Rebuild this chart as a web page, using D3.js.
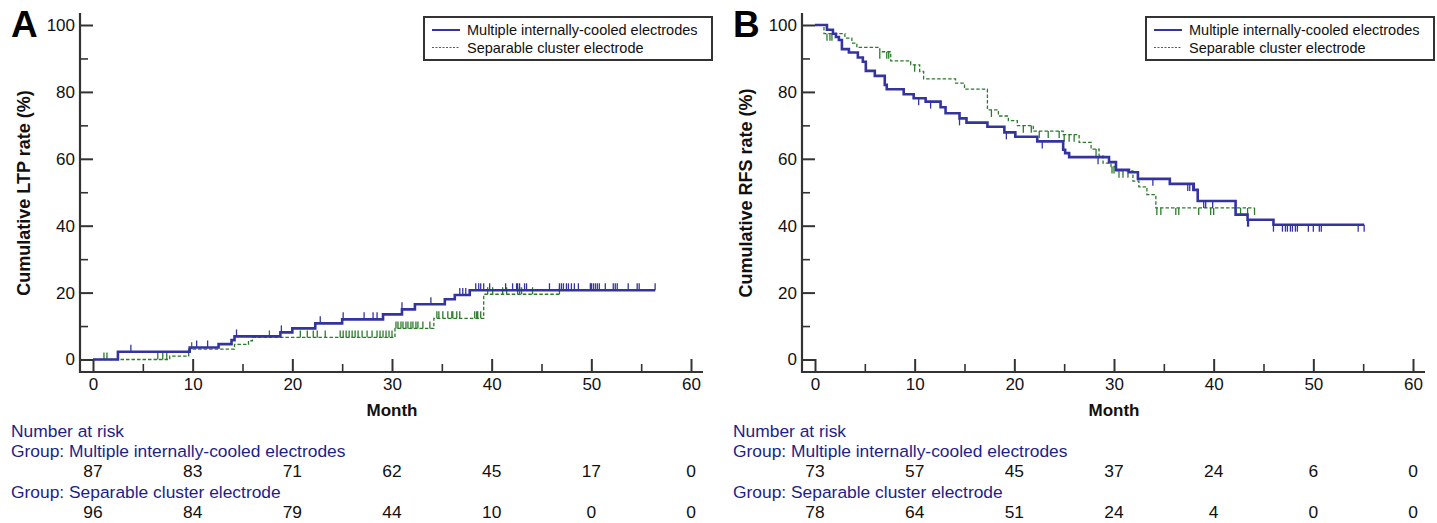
<!DOCTYPE html>
<html><head><meta charset="utf-8">
<script src="https://cdn.jsdelivr.net/npm/d3@7"></script>
<style>
body{margin:0;background:#fff}
svg{display:block}
text{font-family:"Liberation Sans",Arial,sans-serif}
</style>
</head><body>
<svg id="c" width="1437" height="523"></svg>
<script>
// ---------- shared ----------
const monthTicks = [0, 10, 20, 30, 40, 50, 60];
const monthMinor = [5, 15, 25, 35, 45, 55];
const yTicks = [0, 20, 40, 60, 80, 100];
const yMinor = [10, 30, 50, 70, 90];
const groupNames = ["Multiple internally-cooled electrodes", "Separable cluster electrode"];

// ---------- Panel A: cumulative LTP ----------
const ltpMiceTimes  = [0, 2.5, 9.7, 12.6, 13.9, 14.2, 18.8, 20.0, 22.3, 25.0, 29.1, 31.0, 32.3, 35.3, 36.3, 37.8, 56.4];
const ltpMiceValues = [0, 2.3, 3.6, 4.6, 5.8, 6.9, 8.1, 9.3, 10.8, 12.0, 13.5, 15.0, 16.5, 18.0, 19.3, 20.7, 20.7];
const ltpMiceCensored = [3.8, 10.4, 11.5, 14.4, 18.9, 22.8, 25.1, 27.2, 28.1, 28.5, 31.0, 33.9, 36.8, 37.1, 37.4,
  38.4, 38.7, 38.9, 39.2, 39.8, 41.4, 42.1, 42.5, 42.6, 42.8, 43.3, 43.5, 45.8, 46.8, 47.0, 47.2, 47.5, 47.7, 48.0,
  48.3, 48.7, 49.9, 50.0, 50.2, 50.4, 50.6, 50.8, 51.4, 52.2, 52.4, 52.6, 53.7, 54.6, 54.8, 56.4];

const ltpSceTimes  = [0, 7.7, 9.6, 14.2, 15.6, 16.0, 30.3, 34.2, 39.2, 46.8];
const ltpSceValues = [0, 1.0, 3.1, 4.5, 5.6, 6.6, 9.3, 12.3, 19.5, 19.5];
const ltpSceCensored = [1.1, 1.4, 6.5, 7.0, 7.4, 9.9, 17.7, 20.8, 21.5, 22.1, 22.5, 23.3, 24.8, 25.1, 25.4, 25.7,
  26.0, 26.3, 26.6, 27.0, 27.5, 28.0, 28.5, 28.8, 29.1, 29.4, 29.7, 30.0, 30.4, 30.6, 30.9, 31.1, 31.4, 31.6, 31.9,
  32.1, 32.4, 32.6, 33.1, 33.8, 34.5, 34.7, 35.1, 35.6, 36.0, 36.1, 36.5, 36.8, 38.3, 38.5, 38.6, 38.9, 39.6, 40.1,
  41.1, 41.5, 42.6, 42.8, 43.0, 44.1, 46.8];

const riskLtpMice = [87, 83, 71, 62, 45, 17, 0];
const riskLtpSce  = [96, 84, 79, 44, 10, 0, 0];

// ---------- Panel B: cumulative RFS ----------
const rfsMiceTimes  = [0, 1.2, 1.8, 2.1, 2.4, 2.7, 3.4, 4.3, 4.8, 5.1, 6.0, 7.0, 7.2, 8.9, 9.9, 11.1, 12.6, 13.1,
  14.5, 15.2, 17.3, 19.0, 20.1, 22.3, 24.9, 25.1, 25.5, 29.5, 30.2, 31.5, 32.4, 35.6, 38.0, 38.4, 42.2, 43.4, 46.0, 55.1];
const rfsMiceValues = [100, 98.6, 97.4, 96.4, 95.5, 92.8, 91.8, 90.3, 89.0, 86.3, 84.8, 82.1, 80.8, 79.3, 78.1, 77.1,
  75.4, 73.6, 72.1, 70.8, 69.6, 67.9, 66.6, 65.2, 62.7, 61.7, 60.5, 59.0, 56.7, 56.0, 54.0, 52.5, 50.7, 47.4, 43.3,
  41.8, 40.3, 40.3];
const rfsMiceCensored = [10.4, 11.6, 14.5, 19.2, 22.8, 28.4, 33.9, 37.4, 37.6, 37.9, 39.0, 39.2, 39.9, 43.4, 43.5,
  46.0, 46.9, 47.2, 47.4, 47.7, 47.9, 48.2, 48.4, 49.5, 50.0, 50.6, 50.8, 54.5, 55.1];

const rfsSceTimes  = [0, 0.9, 3.0, 3.7, 4.2, 6.5, 7.6, 9.6, 10.5, 10.9, 14.1, 15.0, 17.3, 18.4, 19.4, 20.3, 21.9,
  24.9, 26.5, 27.7, 28.5, 28.9, 29.7, 30.2, 31.9, 32.5, 33.3, 34.2, 44.1];
const rfsSceValues = [100, 97.4, 96.1, 94.6, 93.3, 92.0, 89.3, 88.1, 86.1, 83.9, 82.6, 80.8, 74.6, 72.8, 71.4, 69.9,
  68.3, 67.2, 64.9, 62.9, 60.9, 58.7, 57.7, 56.4, 53.3, 51.6, 49.3, 45.3, 45.3];
const rfsSceCensored = [1.2, 1.5, 1.7, 6.5, 7.2, 7.4, 10.0, 17.7, 20.9, 21.7, 22.5, 23.4, 24.5, 25.0, 25.5, 26.0,
  28.2, 29.8, 30.0, 30.5, 30.9, 31.4, 34.3, 34.7, 36.2, 36.5, 38.5, 39.7, 40.0, 42.2, 42.7, 43.4, 44.1];

const riskRfsMice = [73, 57, 45, 37, 24, 6, 0];
const riskRfsSce  = [78, 64, 51, 24, 4, 0, 0];

// ---------- drawing ----------
const BLUE = "#3434a0", GREEN = "#2b7b2b", AXIS = "#333", NAVY = "#1e1e88";
const svg = d3.select("#c");

const panels = [
  { letter: "A", ox: 0, ylabel: "Cumulative LTP rate (%)", dir: 1,
    mice: [ltpMiceTimes, ltpMiceValues, ltpMiceCensored], sce: [ltpSceTimes, ltpSceValues, ltpSceCensored],
    risk: [riskLtpMice, riskLtpSce] },
  { letter: "B", ox: 722, ylabel: "Cumulative RFS rate (%)", dir: -1,
    mice: [rfsMiceTimes, rfsMiceValues, rfsMiceCensored], sce: [rfsSceTimes, rfsSceValues, rfsSceCensored],
    risk: [riskRfsMice, riskRfsSce] }
];

function stepValue(times, values, t) {
  let v = values[0];
  for (let i = 0; i < times.length; i++) if (times[i] <= t + 1e-9) v = values[i];
  return v;
}

panels.forEach(p => {
  const g = svg.append("g").attr("transform", `translate(${p.ox},0)`);
  const axX = 80, axY = 372, axTop = 13, axRight = 703;
  const x = d3.scaleLinear().domain([0, 60]).range([93, 691]);
  const y = d3.scaleLinear().domain([0, 100]).range([359.5, 25]);

  // axis lines
  g.append("line").attr("x1", axX).attr("x2", axX).attr("y1", axTop).attr("y2", axY + 1)
    .attr("stroke", AXIS).attr("stroke-width", 2.2);
  g.append("line").attr("x1", axX - 1).attr("x2", axRight).attr("y1", axY).attr("y2", axY)
    .attr("stroke", AXIS).attr("stroke-width", 2.2);

  // y axis (inward ticks)
  const ya = g.append("g").attr("transform", `translate(${axX},0)`)
    .call(d3.axisLeft(y).tickValues(yTicks).tickSize(-13).tickPadding(5).tickFormat(d3.format("d")));
  ya.select(".domain").remove();
  ya.selectAll("line").attr("stroke", AXIS).attr("stroke-width", 2);
  ya.selectAll("text").attr("font-size", 17).attr("fill", "#111")
    .style("font-family", '"Liberation Sans",Arial,sans-serif');
  const yam = g.append("g").attr("transform", `translate(${axX},0)`)
    .call(d3.axisLeft(y).tickValues(yMinor).tickSize(-8).tickFormat(""));
  yam.select(".domain").remove();
  yam.selectAll("line").attr("stroke", AXIS).attr("stroke-width", 1.6);

  // x axis
  const xa = g.append("g").attr("transform", `translate(0,${axY})`)
    .call(d3.axisBottom(x).tickValues(monthTicks).tickSize(-13).tickPadding(6));
  xa.select(".domain").remove();
  xa.selectAll("line").attr("stroke", AXIS).attr("stroke-width", 2);
  xa.selectAll("text").attr("font-size", 17).attr("fill", "#111")
    .style("font-family", '"Liberation Sans",Arial,sans-serif');
  const xam = g.append("g").attr("transform", `translate(0,${axY})`)
    .call(d3.axisBottom(x).tickValues(monthMinor).tickSize(-8).tickFormat(""));
  xam.select(".domain").remove();
  xam.selectAll("line").attr("stroke", AXIS).attr("stroke-width", 1.6);

  // labels
  g.append("text").attr("x", 11).attr("y", 37).attr("font-size", 37).attr("font-weight", "bold")
    .attr("fill", "#000").text(p.letter);
  g.append("text").attr("transform", `translate(30,193) rotate(-90)`).attr("text-anchor", "middle")
    .attr("font-size", 18).attr("font-weight", "bold").attr("fill", "#111").text(p.ylabel);
  g.append("text").attr("x", x(30)).attr("y", 416).attr("text-anchor", "middle")
    .attr("font-size", 17).attr("font-weight", "bold").attr("fill", "#111").text("Month");

  // curves
  const line = d3.line().x(d => x(d[0])).y(d => y(d[1])).curve(d3.curveStepAfter);
  const series = [
    { d: p.sce, color: GREEN, w: 1.3, dash: "3.5,2" },
    { d: p.mice, color: BLUE, w: 2.6, dash: null }
  ];
  series.forEach(s => {
    const [times, values, cens] = s.d;
    const pts = times.map((t, i) => [t, values[i]]);
    g.append("path").datum(pts).attr("d", line).attr("fill", "none")
      .attr("stroke", s.color).attr("stroke-width", s.w).attr("stroke-dasharray", s.dash);
    g.append("g").selectAll("line").data(cens).join("line")
      .attr("x1", t => x(t)).attr("x2", t => x(t))
      .attr("y1", t => y(stepValue(times, values, t)))
      .attr("y2", t => y(stepValue(times, values, t)) - 7 * p.dir)
      .attr("stroke", s.color).attr("stroke-width", 1.3);
  });

  // legend
  const lg = g.append("g");
  lg.append("rect").attr("x", 424).attr("y", 17).attr("width", 288).attr("height", 43)
    .attr("fill", "#fff").attr("stroke", "#333").attr("stroke-width", 2);
  [[BLUE, 2, null, 30], [GREEN, 1.2, "2,1.5", 47.5]].forEach((e, i) => {
    lg.append("line").attr("x1", 432).attr("x2", 460).attr("y1", e[3]).attr("y2", e[3])
      .attr("stroke", e[0]).attr("stroke-width", e[1]).attr("stroke-dasharray", e[2]);
    lg.append("text").attr("x", 467).attr("y", e[3] + 5).attr("font-size", 14.5).attr("fill", "#111")
      .text(groupNames[i]);
  });

  // number at risk table
  const fs = 17.4;
  const rt = g.append("g");
  rt.append("text").attr("x", 11).attr("y", 437).attr("font-size", fs).attr("fill", NAVY).text("Number at risk");
  rt.append("text").attr("x", 11).attr("y", 457).attr("font-size", fs).attr("fill", NAVY).text("Group: " + groupNames[0]);
  rt.append("text").attr("x", 11).attr("y", 498).attr("font-size", fs).attr("fill", NAVY).text("Group: " + groupNames[1]);
  [[p.risk[0], 477], [p.risk[1], 518]].forEach(([arr, yy]) => {
    rt.append("g").selectAll("text").data(arr).join("text")
      .attr("x", (d, i) => x(monthTicks[i])).attr("y", yy).attr("text-anchor", "middle")
      .attr("font-size", fs).attr("fill", "#111").text(d => d);
  });
});
</script>
</body></html>
